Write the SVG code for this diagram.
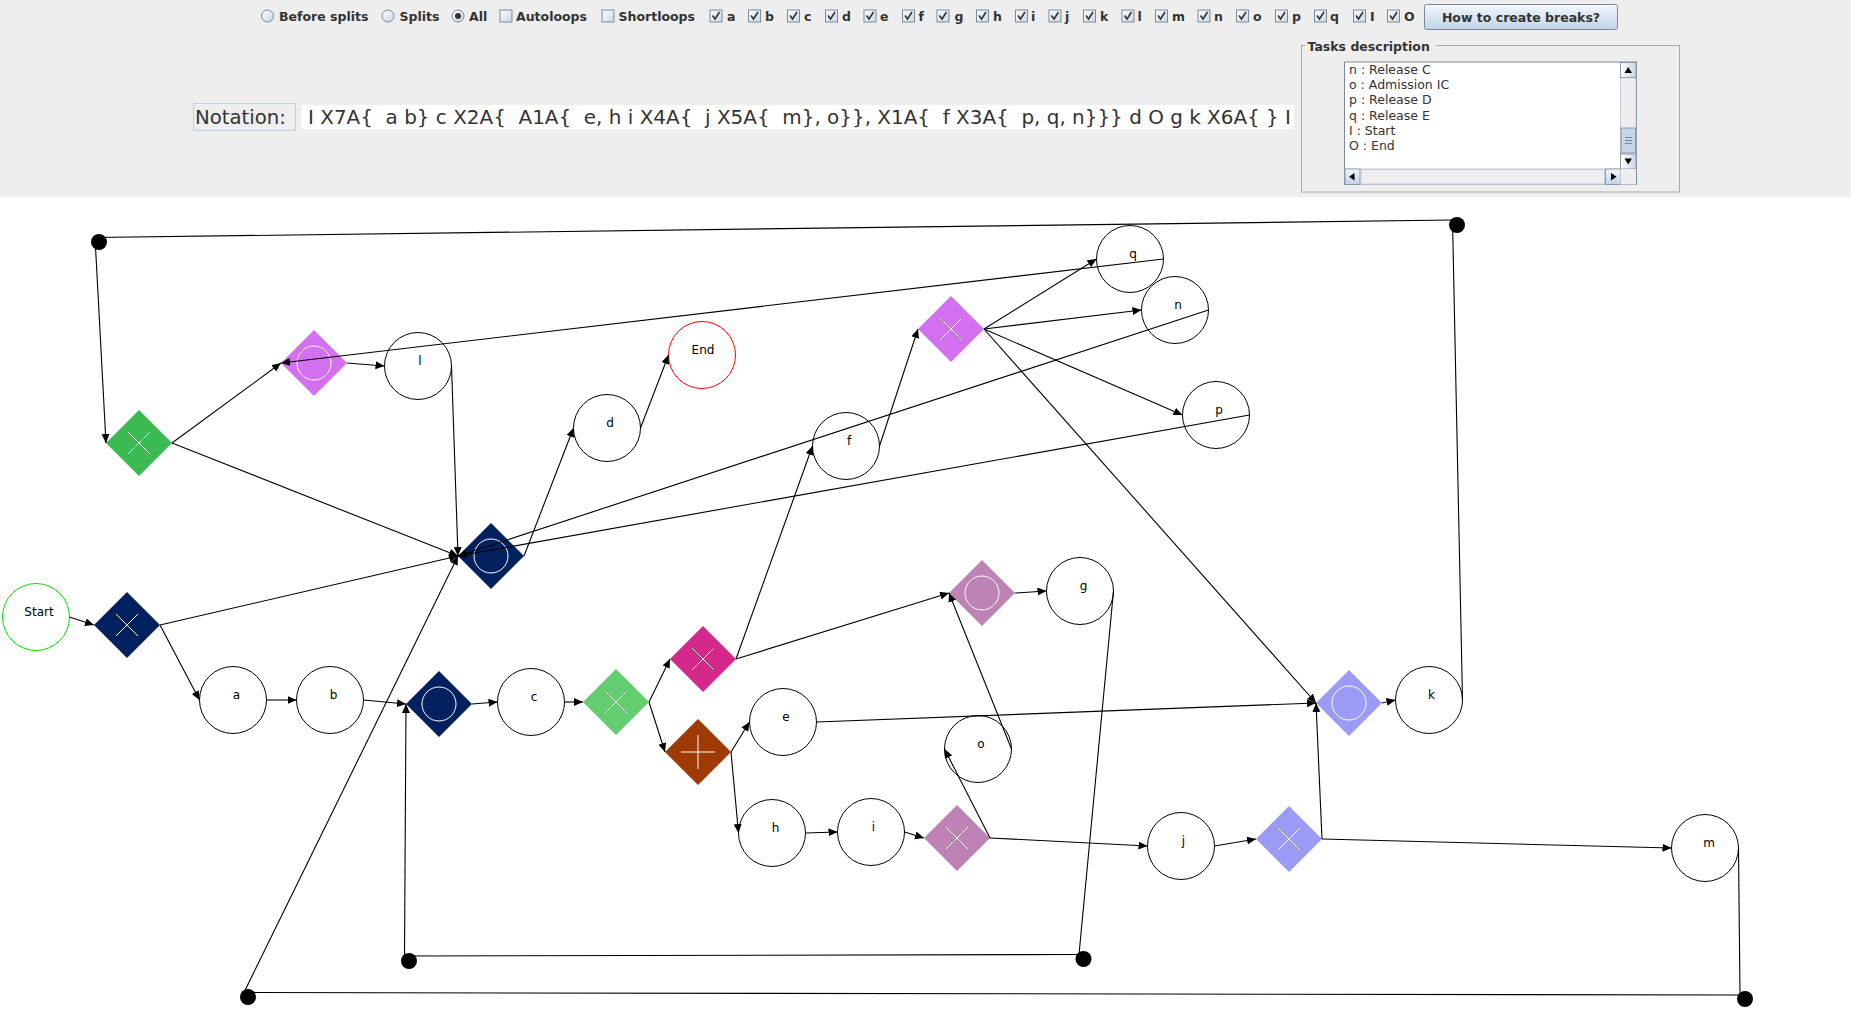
<svg xmlns="http://www.w3.org/2000/svg" width="1851" height="1012" viewBox="0 0 1851 1012">
<style>
.hdr{font-family:"DejaVu Sans","Liberation Sans",sans-serif;font-size:12.5px;font-weight:bold;fill:#333}
.lst{font-family:"DejaVu Sans","Liberation Sans",sans-serif;font-size:12.5px;fill:#333}
.lbl{font-family:"DejaVu Sans","Liberation Sans",sans-serif;font-size:12px;fill:#000;text-anchor:middle}
.task{fill:none;stroke:#000;stroke-width:1}
.edge{stroke:#000;stroke-width:1.1;fill:none}
.arr{marker-end:url(#ah)}
.gl{stroke:#fff;stroke-width:1;fill:none}
.dot{fill:#000}
.cb{fill:url(#cbg);stroke:#7a8a99;stroke-width:1}
.ck{fill:none;stroke:#333;stroke-width:1.6}
.rb{fill:url(#cbg);stroke:#7a8a99;stroke-width:1}
</style>
<defs>
<marker id="ah" markerUnits="userSpaceOnUse" markerWidth="10" markerHeight="9" refX="9" refY="4" orient="auto"><path d="M0,0 L9,4 L0,8 z" fill="#000"/></marker>
<linearGradient id="cbg" x1="0" y1="0" x2="1" y2="1"><stop offset="0" stop-color="#ffffff"/><stop offset="1" stop-color="#c8d6e4"/></linearGradient>
<linearGradient id="btng" x1="0" y1="0" x2="0" y2="1"><stop offset="0" stop-color="#f4f8fc"/><stop offset="1" stop-color="#bfd3e8"/></linearGradient>
<linearGradient id="sbg" x1="0" y1="0" x2="1" y2="0"><stop offset="0" stop-color="#ffffff"/><stop offset="1" stop-color="#c8d6e4"/></linearGradient>
</defs>

<!-- header panel -->
<g id="header">
<rect x="0" y="0" width="1851" height="197" fill="#eeeeee"/>
<rect x="0" y="197" width="1851" height="815" fill="#ffffff"/>
<circle class="rb" cx="267.5" cy="16" r="6"/>
<text class="hdr" x="279" y="21">Before splits</text>
<circle class="rb" cx="388" cy="16" r="6"/>
<text class="hdr" x="399.5" y="21">Splits</text>
<circle class="rb" cx="458" cy="16" r="6"/>
<circle cx="458" cy="16" r="3" fill="#333"/>
<text class="hdr" x="469" y="21">All</text>
<rect class="cb" x="500" y="10" width="12" height="12"/>
<text class="hdr" x="516" y="21">Autoloops</text>
<rect class="cb" x="602" y="10" width="12" height="12"/>
<text class="hdr" x="618.5" y="21">Shortloops</text>
<g id="checks">
<rect class="cb" x="710" y="10" width="12" height="12"/><path class="ck" d="M712.5,15.5 l2.5,3.5 l4.5,-7"/><text class="hdr" x="727" y="21">a</text>
<rect class="cb" x="748.5" y="10" width="12" height="12"/><path class="ck" d="M751,15.5 l2.5,3.5 l4.5,-7"/><text class="hdr" x="765" y="21">b</text>
<rect class="cb" x="787.5" y="10" width="12" height="12"/><path class="ck" d="M790,15.5 l2.5,3.5 l4.5,-7"/><text class="hdr" x="804" y="21">c</text>
<rect class="cb" x="825.5" y="10" width="12" height="12"/><path class="ck" d="M828,15.5 l2.5,3.5 l4.5,-7"/><text class="hdr" x="842" y="21">d</text>
<rect class="cb" x="864" y="10" width="12" height="12"/><path class="ck" d="M866.5,15.5 l2.5,3.5 l4.5,-7"/><text class="hdr" x="880" y="21">e</text>
<rect class="cb" x="902.5" y="10" width="12" height="12"/><path class="ck" d="M905,15.5 l2.5,3.5 l4.5,-7"/><text class="hdr" x="918.5" y="21">f</text>
<rect class="cb" x="937" y="10" width="12" height="12"/><path class="ck" d="M939.5,15.5 l2.5,3.5 l4.5,-7"/><text class="hdr" x="954.5" y="21">g</text>
<rect class="cb" x="976.5" y="10" width="12" height="12"/><path class="ck" d="M979,15.5 l2.5,3.5 l4.5,-7"/><text class="hdr" x="993" y="21">h</text>
<rect class="cb" x="1015.5" y="10" width="12" height="12"/><path class="ck" d="M1018,15.5 l2.5,3.5 l4.5,-7"/><text class="hdr" x="1031" y="21">i</text>
<rect class="cb" x="1049" y="10" width="12" height="12"/><path class="ck" d="M1051.5,15.5 l2.5,3.5 l4.5,-7"/><text class="hdr" x="1065" y="21">j</text>
<rect class="cb" x="1083.5" y="10" width="12" height="12"/><path class="ck" d="M1086,15.5 l2.5,3.5 l4.5,-7"/><text class="hdr" x="1100" y="21">k</text>
<rect class="cb" x="1122" y="10" width="12" height="12"/><path class="ck" d="M1124.5,15.5 l2.5,3.5 l4.5,-7"/><text class="hdr" x="1137.5" y="21">l</text>
<rect class="cb" x="1155.5" y="10" width="12" height="12"/><path class="ck" d="M1158,15.5 l2.5,3.5 l4.5,-7"/><text class="hdr" x="1172" y="21">m</text>
<rect class="cb" x="1198" y="10" width="12" height="12"/><path class="ck" d="M1200.5,15.5 l2.5,3.5 l4.5,-7"/><text class="hdr" x="1214" y="21">n</text>
<rect class="cb" x="1236.5" y="10" width="12" height="12"/><path class="ck" d="M1239,15.5 l2.5,3.5 l4.5,-7"/><text class="hdr" x="1253" y="21">o</text>
<rect class="cb" x="1275.5" y="10" width="12" height="12"/><path class="ck" d="M1278,15.5 l2.5,3.5 l4.5,-7"/><text class="hdr" x="1292" y="21">p</text>
<rect class="cb" x="1314.5" y="10" width="12" height="12"/><path class="ck" d="M1317,15.5 l2.5,3.5 l4.5,-7"/><text class="hdr" x="1330" y="21">q</text>
<rect class="cb" x="1353.5" y="10" width="12" height="12"/><path class="ck" d="M1356,15.5 l2.5,3.5 l4.5,-7"/><text class="hdr" x="1370" y="21">I</text>
<rect class="cb" x="1387.5" y="10" width="12" height="12"/><path class="ck" d="M1390,15.5 l2.5,3.5 l4.5,-7"/><text class="hdr" x="1404" y="21">O</text>
</g>
<rect x="1424.5" y="4.5" width="193" height="25" rx="2" fill="url(#btng)" stroke="#7a8a99"/>
<text class="hdr" x="1521" y="21.5" text-anchor="middle">How to create breaks?</text>

<rect x="193.5" y="103.5" width="102" height="27" fill="#eeeeee" stroke="#b8cfe5"/>
<text x="195" y="123.5" font-family="DejaVu Sans, Liberation Sans, sans-serif" font-size="20" fill="#333" textLength="91" lengthAdjust="spacingAndGlyphs">Notation:</text>
<rect x="301" y="105" width="993" height="24" fill="#ffffff"/>
<text x="308" y="123.5" xml:space="preserve" font-family="DejaVu Sans, Liberation Sans, sans-serif" font-size="20" fill="#333" textLength="983" lengthAdjust="spacingAndGlyphs">I X7A{  a b} c X2A{  A1A{  e, h i X4A{  j X5A{  m}, o}}, X1A{  f X3A{  p, q, n}}} d O g k X6A{ } I</text>

<rect x="1301.5" y="45.5" width="378" height="146.5" fill="none" stroke="#a8a8a8"/>
<rect x="1305" y="37" width="131" height="16" fill="#eeeeee"/>
<text class="hdr" x="1307.5" y="50.5">Tasks description</text>
<rect x="1344.5" y="62" width="292" height="122.5" fill="#ffffff" stroke="#7a8a99"/>
<text class="lst" x="1349" y="74">n : Release C</text>
<text class="lst" x="1349" y="89.2">o : Admission IC</text>
<text class="lst" x="1349" y="104.4">p : Release D</text>
<text class="lst" x="1349" y="119.6">q : Release E</text>
<text class="lst" x="1349" y="134.8">I : Start</text>
<text class="lst" x="1349" y="150">O : End</text>
<rect x="1620.5" y="62.5" width="15.5" height="106.5" fill="#eeeeee" stroke="#b8c4d0" stroke-width="0.8"/>
<rect x="1620.5" y="62.5" width="15.5" height="15" fill="url(#sbg)" stroke="#7a8a99" stroke-width="0.8"/>
<path d="M1624.5,73 L1628.2,67 L1632,73 z" fill="#000"/>
<rect x="1620.5" y="154" width="15.5" height="15" fill="url(#sbg)" stroke="#7a8a99" stroke-width="0.8"/>
<path d="M1624.5,158.5 L1632,158.5 L1628.2,164.5 z" fill="#000"/>
<rect x="1621" y="128" width="14.5" height="25" fill="#c6d6e8" stroke="#7a8a99" stroke-width="0.8"/>
<path d="M1625,137.5 h7 M1625,140.5 h7 M1625,143.5 h7" stroke="#6f86a0" stroke-width="1"/>
<rect x="1345" y="169" width="275.5" height="15.5" fill="#eeeeee" stroke="#b8c4d0" stroke-width="0.8"/>
<rect x="1345" y="169" width="15" height="15.5" fill="url(#btng)" stroke="#7a8a99" stroke-width="0.8"/>
<path d="M1354.5,173 L1349,176.8 L1354.5,180.6 z" fill="#000"/>
<rect x="1605.5" y="169" width="15" height="15.5" fill="url(#btng)" stroke="#7a8a99" stroke-width="0.8"/>
<path d="M1611,173 L1616.5,176.8 L1611,180.6 z" fill="#000"/>
<rect x="1361" y="169.5" width="243.5" height="14.5" fill="#eeeeee" stroke="#b8c4d0" stroke-width="0.8"/>
<rect x="1620.5" y="169" width="15.5" height="15.5" fill="#eeeeee"/>
</g>

<!-- nodes -->
<g id="nodes">
<g id="node-start"><circle cx="36" cy="617" r="33.5" fill="none" stroke="#00e000"/><text class="lbl" x="39" y="616">Start</text></g>
<g id="node-end"><circle cx="702" cy="355" r="33.5" fill="none" stroke="#ff0000"/><text class="lbl" x="703" y="354">End</text></g>
<g id="node-a"><circle class="task" cx="233" cy="700" r="33.5"/><text class="lbl" x="236.5" y="699">a</text></g>
<g id="node-b"><circle class="task" cx="330" cy="700" r="33.5"/><text class="lbl" x="333.5" y="699">b</text></g>
<g id="node-c"><circle class="task" cx="531" cy="702" r="33.5"/><text class="lbl" x="534" y="701">c</text></g>
<g id="node-d"><circle class="task" cx="607" cy="428" r="33.5"/><text class="lbl" x="610" y="427">d</text></g>
<g id="node-e"><circle class="task" cx="783" cy="722" r="33.5"/><text class="lbl" x="786" y="721">e</text></g>
<g id="node-f"><circle class="task" cx="846" cy="446" r="33.5"/><text class="lbl" x="849" y="445">f</text></g>
<g id="node-g"><circle class="task" cx="1080" cy="591" r="33.5"/><text class="lbl" x="1083.5" y="590">g</text></g>
<g id="node-h"><circle class="task" cx="772" cy="833" r="33.5"/><text class="lbl" x="775.5" y="832">h</text></g>
<g id="node-i"><circle class="task" cx="871" cy="832" r="33.5"/><text class="lbl" x="873.5" y="831">i</text></g>
<g id="node-j"><circle class="task" cx="1181" cy="846" r="33.5"/><text class="lbl" x="1183.5" y="845">j</text></g>
<g id="node-k"><circle class="task" cx="1429" cy="700" r="33.5"/><text class="lbl" x="1431.5" y="699">k</text></g>
<g id="node-l"><circle class="task" cx="418" cy="366" r="33.5"/><text class="lbl" x="420" y="365">l</text></g>
<g id="node-m"><circle class="task" cx="1705" cy="848" r="33.5"/><text class="lbl" x="1709" y="847">m</text></g>
<g id="node-n"><circle class="task" cx="1175" cy="310" r="33.5"/><text class="lbl" x="1178" y="309">n</text></g>
<g id="node-o"><circle class="task" cx="978" cy="749" r="33.5"/><text class="lbl" x="981" y="748">o</text></g>
<g id="node-p"><circle class="task" cx="1216" cy="415" r="33.5"/><text class="lbl" x="1219" y="414">p</text></g>
<g id="node-q"><circle class="task" cx="1130" cy="259" r="33.5"/><text class="lbl" x="1133" y="258">q</text></g>

<g id="gw-x7a-split"><polygon points="127,592 160,625 127,658 94,625" fill="#02215e"/><path class="gl" d="M116,614 L138,636 M116,636 L138,614"/></g>
<g id="gw-or-upper"><polygon points="491,523 524,556 491,589 458,556" fill="#02215e"/><circle class="gl" cx="491" cy="556" r="17"/></g>
<g id="gw-or-lower"><polygon points="439,671 472,704 439,737 406,704" fill="#02215e"/><circle class="gl" cx="439" cy="704" r="17"/></g>
<g id="gw-x2a"><polygon points="616,669 649,702 616,735 583,702" fill="#62ce70"/><path class="gl" d="M605,691 L627,713 M605,713 L627,691"/></g>
<g id="gw-x1a"><polygon points="703,626 736,659 703,692 670,659" fill="#d4298a"/><path class="gl" d="M692,648 L714,670 M692,670 L714,648"/></g>
<g id="gw-a1a"><polygon points="698,719 731,752 698,785 665,752" fill="#a03a05"/><path class="gl" d="M681,752 L715,752 M698,735 L698,769"/></g>
<g id="gw-x4a"><polygon points="957,805 990,838 957,871 924,838" fill="#be82b4"/><path class="gl" d="M946,827 L968,849 M946,849 L968,827"/></g>
<g id="gw-x4a-join"><polygon points="982,560 1015,593 982,626 949,593" fill="#be82b4"/><circle class="gl" cx="982" cy="593" r="17"/></g>
<g id="gw-x5a"><polygon points="1289,806 1322,839 1289,872 1256,839" fill="#9b9bf5"/><path class="gl" d="M1278,828 L1300,850 M1278,850 L1300,828"/></g>
<g id="gw-x5a-join"><polygon points="1349,670 1382,703 1349,736 1316,703" fill="#9b9bf5"/><circle class="gl" cx="1349" cy="703" r="17"/></g>
<g id="gw-x3a"><polygon points="951,296 984,329 951,362 918,329" fill="#d370f0"/><path class="gl" d="M940,318 L962,340 M940,340 L962,318"/></g>
<g id="gw-x3a-join"><polygon points="314,330 347,363 314,396 281,363" fill="#d370f0"/><circle class="gl" cx="314" cy="363" r="17"/></g>
<g id="gw-x6a"><polygon points="139,410 172,443 139,476 106,443" fill="#3bba52"/><path class="gl" d="M128,432 L150,454 M128,454 L150,432"/></g>

<g id="bend-1"><circle class="dot" cx="99" cy="242" r="8"/></g>
<g id="bend-2"><circle class="dot" cx="1457" cy="225" r="8"/></g>
<g id="bend-3"><circle class="dot" cx="248" cy="997" r="8"/></g>
<g id="bend-4"><circle class="dot" cx="409" cy="961" r="8"/></g>
<g id="bend-5"><circle class="dot" cx="1083.5" cy="959" r="8"/></g>
<g id="bend-6"><circle class="dot" cx="1745" cy="999" r="8"/></g>
</g>

<!-- connectors -->
<g id="connectors">
<line class="edge arr" x1="69.5" y1="617" x2="94" y2="625"/>
<line class="edge arr" x1="160" y1="625" x2="199.5" y2="700"/>
<line class="edge arr" x1="160" y1="625" x2="458" y2="556"/>
<line class="edge arr" x1="266.5" y1="700" x2="296.5" y2="700"/>
<line class="edge arr" x1="363.5" y1="700" x2="406" y2="704"/>
<line class="edge arr" x1="404.5" y1="956" x2="406" y2="704"/>
<line class="edge arr" x1="472" y1="704" x2="497.5" y2="702"/>
<line class="edge arr" x1="564.5" y1="702" x2="583" y2="702"/>
<line class="edge arr" x1="649" y1="702" x2="670" y2="659"/>
<line class="edge arr" x1="649" y1="702" x2="665" y2="752"/>
<line class="edge arr" x1="736" y1="659" x2="812.5" y2="446"/>
<line class="edge arr" x1="736" y1="659" x2="949" y2="593"/>
<line class="edge arr" x1="731" y1="752" x2="749.5" y2="722"/>
<line class="edge arr" x1="731" y1="752" x2="738.5" y2="833"/>
<line class="edge arr" x1="805.5" y1="833" x2="837.5" y2="832"/>
<line class="edge arr" x1="904.5" y1="832" x2="924" y2="838"/>
<line class="edge arr" x1="990" y1="838" x2="944.5" y2="749"/>
<line class="edge arr" x1="990" y1="838" x2="1147.5" y2="846"/>
<line class="edge arr" x1="1011.5" y1="749" x2="949" y2="593"/>
<line class="edge arr" x1="1015" y1="593" x2="1046.5" y2="591"/>
<line class="edge" x1="1113.5" y1="591" x2="1079" y2="954.5"/>
<line class="edge" x1="1079" y1="954.5" x2="404.5" y2="956"/>
<line class="edge arr" x1="816.5" y1="722" x2="1316" y2="703"/>
<line class="edge arr" x1="1214.5" y1="846" x2="1256" y2="839"/>
<line class="edge arr" x1="1322" y1="839" x2="1671.5" y2="848"/>
<line class="edge arr" x1="1322" y1="839" x2="1316" y2="703"/>
<line class="edge" x1="1738.5" y1="848" x2="1740" y2="995"/>
<line class="edge" x1="1740" y1="995" x2="244" y2="992.5"/>
<line class="edge arr" x1="244" y1="992.5" x2="458" y2="556"/>
<line class="edge arr" x1="1382" y1="703" x2="1395.5" y2="700"/>
<line class="edge" x1="1462.5" y1="700" x2="1452.5" y2="220"/>
<line class="edge" x1="1452.5" y1="220" x2="95" y2="237.5"/>
<line class="edge arr" x1="95" y1="237.5" x2="106" y2="443"/>
<line class="edge arr" x1="172" y1="443" x2="281" y2="363"/>
<line class="edge arr" x1="172" y1="443" x2="458" y2="556"/>
<line class="edge arr" x1="347" y1="363" x2="384.5" y2="366"/>
<line class="edge arr" x1="451.5" y1="366" x2="458" y2="556"/>
<line class="edge arr" x1="1163.5" y1="259" x2="281" y2="363"/>
<line class="edge arr" x1="524" y1="556" x2="573.5" y2="428"/>
<line class="edge arr" x1="640.5" y1="428" x2="668.5" y2="355"/>
<line class="edge arr" x1="879.5" y1="446" x2="918" y2="329"/>
<line class="edge arr" x1="984" y1="329" x2="1096.5" y2="259"/>
<line class="edge arr" x1="984" y1="329" x2="1141.5" y2="310"/>
<line class="edge arr" x1="984" y1="329" x2="1182.5" y2="415"/>
<line class="edge arr" x1="984" y1="329" x2="1316" y2="703"/>
<line class="edge arr" x1="1208.5" y1="310" x2="458" y2="556"/>
<line class="edge arr" x1="1249.5" y1="415" x2="458" y2="556"/>
</g>
</svg>
